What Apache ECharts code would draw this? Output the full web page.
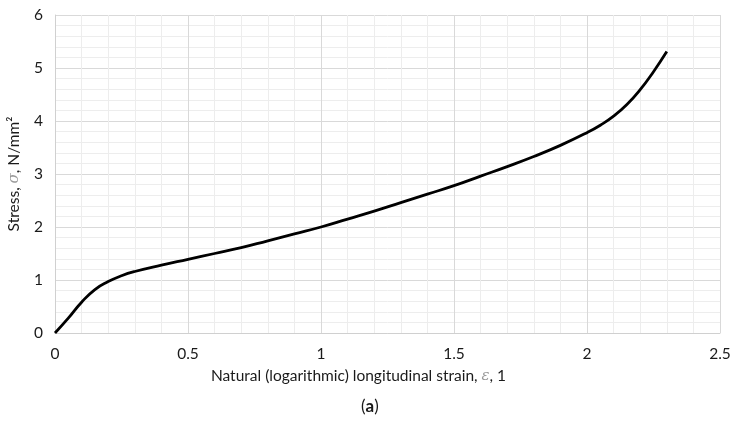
<!DOCTYPE html>
<html>
<head>
<meta charset="utf-8">
<script src="https://cdn.jsdelivr.net/npm/echarts@6/dist/echarts.min.js"></script>
<style>
html, body { margin: 0; padding: 0; background: #fff; }
#chartmain1 { width: 737px; height: 423px; }
</style>
</head>
<body>
<div id="chartmain1"></div>
<script>
// strain (x) and stress (y)
var strain = [0, 0.05, 0.1, 0.15, 0.2, 0.25, 0.3, 0.4, 0.5, 0.6, 0.7, 0.8, 0.9, 1.0,
              1.1, 1.2, 1.3, 1.4, 1.5, 1.6, 1.7, 1.8, 1.9, 2.0, 2.05, 2.1, 2.15, 2.2, 2.25, 2.3];
var stress = [0, 0.28, 0.58, 0.82, 0.97, 1.08, 1.16, 1.28, 1.39, 1.50, 1.61, 1.74, 1.87, 2.0,
              2.15, 2.30, 2.46, 2.62, 2.78, 2.96, 3.14, 3.33, 3.54, 3.78, 3.92, 4.09, 4.31, 4.59, 4.93, 5.31];

var pts = [];
for (var i = 0; i < strain.length; i++) {
    pts.push([strain[i], stress[i]]);
}

var myChart = echarts.init(document.getElementById('chartmain1'));
var font = 'Lato, "Open Sans", sans-serif';
var option = {
    animation: false,
    grid: { left: 55, right: 17, top: 15, bottom: 90, outerBoundsMode: 'none' },
    xAxis: {
        type: 'value',
        min: 0,
        max: 2.5,
        interval: 0.5,
        name: 'Natural (logarithmic) longitudinal strain, {e|ε}, 1',
        nameLocation: 'middle',
        nameGap: 35,
        nameTextStyle: {
            color: '#1a1a1a', fontSize: 15.5, fontFamily: font,
            padding: [0, 58, 0, 0],
            rich: { e: { color: '#999', fontSize: 15, fontFamily: 'DejaVu Serif', fontStyle: 'italic' } }
        },
        axisLine: { show: true, lineStyle: { color: '#d0d0d0', width: 1 } },
        axisTick: { show: false },
        axisLabel: { color: '#1a1a1a', fontSize: 15.5, fontFamily: font, margin: 13 },
        splitLine: { show: true, lineStyle: { color: '#d9d9d9', width: 1 } },
        minorTick: { show: false, splitNumber: 5 },
        minorSplitLine: { show: true, lineStyle: { color: '#ededed', width: 1 } }
    },
    yAxis: {
        type: 'value',
        min: 0,
        max: 6,
        interval: 1,
        name: 'Stress, {s|σ}, N/mm²',
        nameLocation: 'middle',
        nameGap: 33,
        nameTextStyle: {
            color: '#1a1a1a', fontSize: 15.5, fontFamily: font,
            rich: { s: { color: '#999', fontSize: 15, fontFamily: 'DejaVu Serif', fontStyle: 'italic' } }
        },
        axisLine: { show: true, lineStyle: { color: '#d0d0d0', width: 1 } },
        axisTick: { show: false },
        axisLabel: { color: '#1a1a1a', fontSize: 15.5, fontFamily: font, margin: 12 },
        splitLine: { show: true, lineStyle: { color: '#d9d9d9', width: 1 } },
        minorTick: { show: false, splitNumber: 5 },
        minorSplitLine: { show: true, lineStyle: { color: '#ededed', width: 1 } }
    },
    graphic: [
        {
            type: 'text',
            left: 361,
            top: 398,
            style: {
                text: '({b|a})',
                fontSize: 17,
                fontFamily: font,
                fill: '#1a1a1a',
                rich: { b: { fontWeight: 'bold', fontSize: 17, fontFamily: font } }
            }
        }
    ],
    series: [
        {
            type: 'line',
            data: pts,
            smooth: 0.5,
            showSymbol: false,
            lineStyle: { color: '#000', width: 2.8 }
        }
    ]
};
myChart.setOption(option);
</script>
</body>
</html>
